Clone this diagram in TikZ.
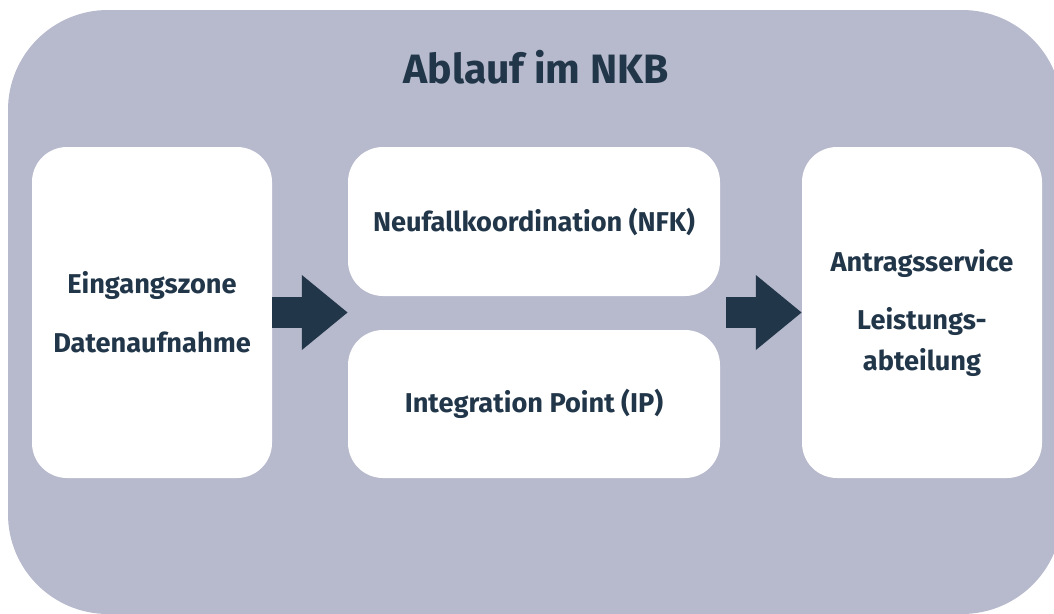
\documentclass[tikz,border=0pt]{standalone}
\usepackage{fontspec}
\setmainfont{Fira Sans}
\usetikzlibrary{calc,arrows.meta}

\definecolor{panelgray}{HTML}{B7B9CC}
\definecolor{navy}{HTML}{22364A}

\tikzset{
	box/.style={fill=white, rounded corners=35pt, inner sep=0pt, align=center,
		text=navy, font=\fontsize{27.2}{41}\selectfont\bfseries},
	flow/.style={draw=navy, line width=31pt, -{Triangle[length=46pt,width=72pt]}}
}

\begin{document}
\begin{tikzpicture}[x=1pt, y=-1pt]
		%%%%% START %%%%%
		\useasboundingbox (0,0) rectangle (1054,613);
		\clip (0,0) rectangle (1054,613);
		
		\fill[panelgray, rounded corners=100pt] (8,10) rectangle (1062,614);
		\node[text=navy, font=\fontsize{41}{50}\selectfont\bfseries] (title) at (536,67) {Ablauf im NKB};
		
		\node[box, minimum width=240pt, minimum height=331pt] (eingang) at (152,312.5)
			{Eingangszone\\[18pt]Datenaufnahme};
		\node[box, minimum width=372pt, minimum height=149pt] (nfk) at (534,221.5)
			{Neufallkoordination (NFK)};
		\node[box, minimum width=372pt, minimum height=148pt] (ip) at (534,404)
			{Integration Point (IP)};
		\node[box, minimum width=240pt, minimum height=331pt] (antrag) at (922,312.5)
			{Antragsservice\\[17pt]Leistungs-\\abteilung};
		
		% block arrows between the columns
		\draw[flow] (eingang.east) -- (eingang.east -| nfk.west);
		\coordinate (join) at ($(nfk.east |- eingang.east)+(6,0)$);
		\draw[flow] (join) -- (antrag.west);
		%%%%% END %%%%%
	\end{tikzpicture}
\end{document}
